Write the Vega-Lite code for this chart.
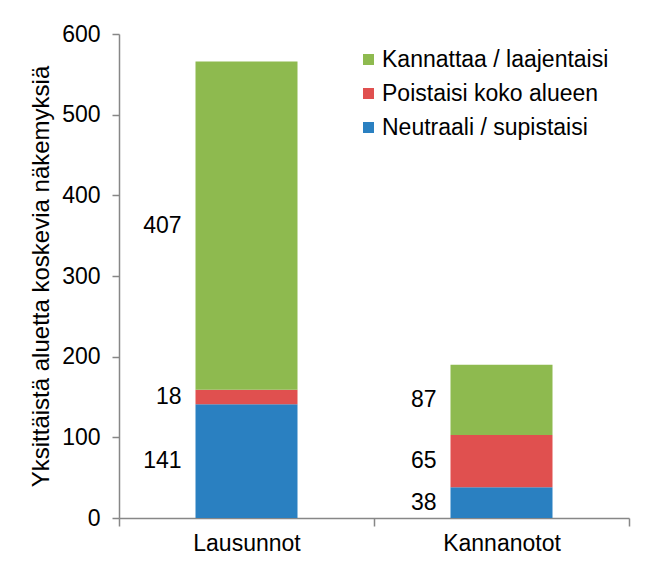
{
  "$schema": "https://vega.github.io/schema/vega-lite/v6.json",
  "autosize": "none",
  "width": 510,
  "height": 484,
  "padding": {"left": 119, "top": 34, "right": 24, "bottom": 52},
  "background": "white",
  "config": {
    "font": "Liberation Sans",
    "view": {"stroke": null}
  },
  "data": {
    "values": [
      {"ryhma": "Lausunnot", "kanta": "Neutraali / supistaisi", "arvo": 141},
      {"ryhma": "Lausunnot", "kanta": "Poistaisi koko alueen", "arvo": 18},
      {"ryhma": "Lausunnot", "kanta": "Kannattaa / laajentaisi", "arvo": 407},
      {"ryhma": "Kannanotot", "kanta": "Neutraali / supistaisi", "arvo": 38},
      {"ryhma": "Kannanotot", "kanta": "Poistaisi koko alueen", "arvo": 65},
      {"ryhma": "Kannanotot", "kanta": "Kannattaa / laajentaisi", "arvo": 87}
    ]
  },
  "transform": [
    {"calculate": "indexof(['Neutraali / supistaisi','Poistaisi koko alueen','Kannattaa / laajentaisi'], datum.kanta)", "as": "jarj"},
    {"stack": "arvo", "groupby": ["ryhma"], "sort": [{"field": "jarj", "order": "ascending"}], "as": ["y0", "y1"]},
    {"calculate": "(datum.y0 + datum.y1) / 2", "as": "ymid"}
  ],
  "encoding": {
    "x": {
      "field": "ryhma",
      "type": "nominal",
      "sort": ["Lausunnot", "Kannanotot"],
      "scale": {"paddingInner": 0, "paddingOuter": 0},
      "axis": {
        "title": null,
        "labelAngle": 0,
        "labelFontSize": 23,
        "labelColor": "#000000",
        "labelPadding": 6,
        "domainColor": "#878787",
        "tickColor": "#878787",
        "tickSize": 8,
        "tickBand": "extent",
        "domainWidth": 1.5,
        "tickWidth": 1.5
      }
    }
  },
  "layer": [
    {
      "mark": {"type": "bar", "width": {"band": 0.4}},
      "encoding": {
        "y": {
          "field": "y0",
          "type": "quantitative",
          "scale": {"domain": [0, 600]},
          "axis": {
            "title": "Yksittäistä aluetta koskevia näkemyksiä",
            "titleFontSize": 24,
            "titleFontWeight": "normal",
            "titleColor": "#000000",
            "titlePadding": 8,
            "values": [0, 100, 200, 300, 400, 500, 600],
            "grid": false,
            "labelFontSize": 23,
            "labelColor": "#000000",
            "labelPadding": 12,
            "domainColor": "#878787",
            "tickColor": "#878787",
            "tickSize": 7,
            "domainWidth": 1.5,
            "tickWidth": 1.5
          }
        },
        "y2": {"field": "y1"},
        "color": {
          "field": "kanta",
          "type": "nominal",
          "scale": {
            "domain": ["Kannattaa / laajentaisi", "Poistaisi koko alueen", "Neutraali / supistaisi"],
            "range": ["#8EBA4F", "#E0504F", "#2A80C1"]
          },
          "legend": {
            "title": null,
            "orient": "none",
            "legendX": 238,
            "legendY": 14,
            "symbolType": "square",
            "symbolSize": 121,
            "symbolStrokeWidth": 0,
            "labelFontSize": 23,
            "labelLimit": 400,
            "labelColor": "#000000",
            "rowPadding": 10,
            "labelOffset": 2
          }
        }
      }
    },
    {
      "mark": {"type": "text", "align": "right", "baseline": "middle", "dx": -65, "fontSize": 23, "color": "#000000"},
      "encoding": {
        "y": {"field": "ymid", "type": "quantitative"},
        "text": {"field": "arvo", "type": "quantitative"}
      }
    }
  ]
}
